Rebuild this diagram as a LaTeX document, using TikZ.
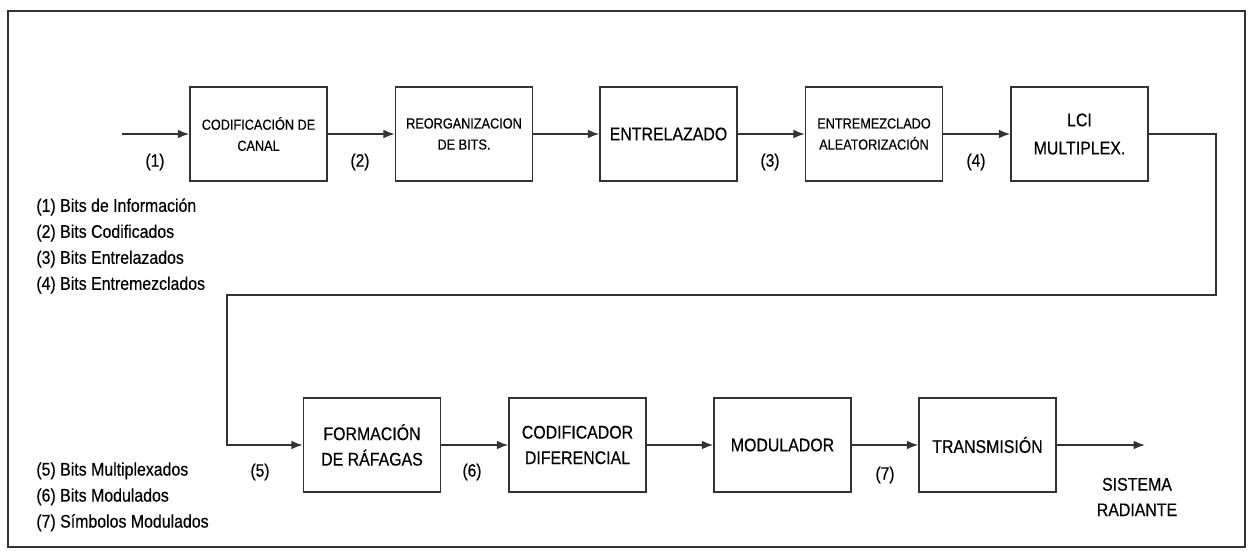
\documentclass[tikz,border=0pt]{standalone}
\usepackage{fontspec}
\setmainfont{Liberation Sans}[FakeStretch=0.87, UprightFeatures={FakeBold=0.4}]
\usetikzlibrary{arrows.meta}
\begin{document}
\begin{tikzpicture}[x=0.02cm, y=-0.02cm,
  every node/.style={text=black},
  blk/.style={rectangle, draw=black!80, line width=0.9pt, minimum width=2.74cm, minimum height=1.88cm, align=center, inner sep=1pt},
  bigtxt/.style={font=\fontsize{10.4}{14.5}\selectfont},
  smalltxt/.style={font=\fontsize{8.3}{12}\selectfont},
  lbl/.style={font=\fontsize{10.2}{12}\selectfont},
  leg/.style={font=\fontsize{10.4}{14.8}\selectfont, align=left, anchor=north west, inner sep=0pt},
  link/.style={line width=0.9pt, black!80, -{Latex[length=6.5pt, width=5pt]}}]
  \useasboundingbox (0,0) rectangle (1249,551);
  \draw[line width=0.9pt, black!80] (8,11) rectangle (1245,547);
  % upper row
  \node[blk, smalltxt] (cod) at (258.5,134) {CODIFICACIÓN DE\\CANAL};
  \node[blk, smalltxt] (reo) at (464,134) {REORGANIZACION\\DE BITS.};
  \node[blk, bigtxt] (ent) at (668.5,134) {ENTRELAZADO};
  \node[blk, smalltxt] (mez) at (874,134) {ENTREMEZCLADO\\ALEATORIZACIÓN};
  \node[blk, font=\fontsize{10.4}{16}\selectfont] (lci) at (1079.5,134) {LCI\\MULTIPLEX.};
  % lower row
  \node[blk, bigtxt] (raf) at (372,445) {FORMACIÓN\\DE RÁFAGAS};
  \node[blk, bigtxt] (dif) at (577.5,445) {CODIFICADOR\\DIFERENCIAL};
  \node[blk, bigtxt] (mod) at (782.5,445) {MODULADOR};
  \node[blk, bigtxt] (tx) at (987.5,445) {TRANSMISIÓN};
  \coordinate (in) at (122,134);
  \coordinate (r1) at (1216,295);
  \coordinate (l1) at (227,295);
  \coordinate (sr) at (1145,445);
  \draw[link] (in) -- (cod); \draw[link] (cod) -- (reo);
  \draw[link] (reo) -- (ent); \draw[link] (ent) -- (mez);
  \draw[link] (mez) -- (lci);
  \draw[link] (lci.east) -| (r1) -- (l1) |- (raf.west);
  \draw[link] (raf) -- (dif); \draw[link] (dif) -- (mod);
  \draw[link] (mod) -- (tx); \draw[link] (tx) -- (sr);
  \node[bigtxt, align=center] (sis) at (1137,497) {SISTEMA\\RADIANTE};
  % signal labels
  \node[lbl] (n1) at (155,162) {(1)};
  \node[lbl] (n2) at (360,162) {(2)};
  \node[lbl] (n3) at (770,162) {(3)};
  \node[lbl] (n4) at (976,162) {(4)};
  \node[lbl] (n5) at (260,472) {(5)};
  \node[lbl] (n6) at (472,472) {(6)};
  \node[lbl] (n7) at (885,475) {(7)};
  % legend
  \node[leg] (leg1) at (36,198) {(1) Bits de Información\\(2) Bits Codificados\\(3) Bits Entrelazados\\(4) Bits Entremezclados};
  \node[leg] (leg2) at (36,462) {(5) Bits Multiplexados\\(6) Bits Modulados\\(7) Símbolos Modulados};
\end{tikzpicture}
\end{document}
